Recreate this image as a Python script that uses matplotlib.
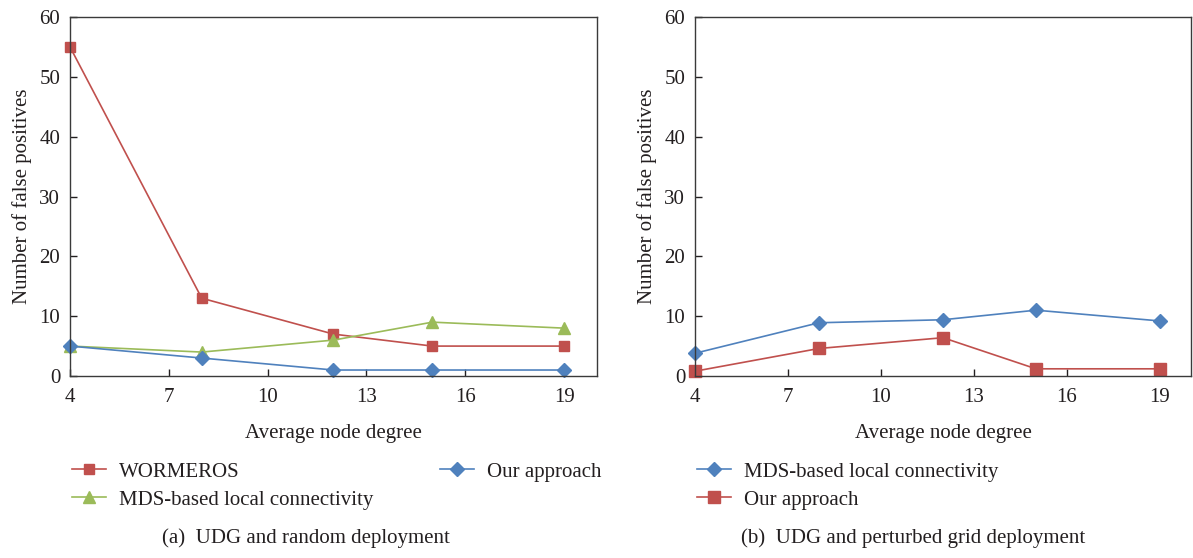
import matplotlib
matplotlib.use("Agg")
import matplotlib.pyplot as plt

# Data
degrees = [4, 8, 12, 15, 19]

# (a) UDG and random deployment
a_wormeros = [55, 13, 7, 5, 5]
a_our = [5, 3, 1, 1, 1]
a_mds = [5, 4, 6, 9, 8]

# (b) UDG and perturbed grid deployment
b_mds = [3.8, 8.9, 9.4, 11.0, 9.2]
b_our = [0.8, 4.6, 6.4, 1.2, 1.2]

x_ticks = [4, 7, 10, 13, 16, 19]
y_ticks = [0, 10, 20, 30, 40, 50, 60]

RED = "#C0504D"
BLUE = "#4F81BD"
GREEN = "#9BBB59"
TEXT = "#231F20"
FS = 15

plt.rcParams['font.family'] = ['Liberation Serif', 'DejaVu Serif']
plt.rcParams['font.size'] = FS
plt.rcParams['text.color'] = TEXT
plt.rcParams['axes.labelcolor'] = TEXT
plt.rcParams['xtick.color'] = TEXT
plt.rcParams['ytick.color'] = TEXT

fig = plt.figure(figsize=(11.93, 5.58), dpi=100)
W, H = 1193.0, 558.0


def style_axes(ax):
    ax.set_xlim(4, 20)
    ax.set_ylim(0, 60)
    ax.set_xticks(x_ticks)
    ax.set_yticks(y_ticks)
    ax.tick_params(direction='in', length=5, width=1, labelsize=FS, pad=7)
    ax.tick_params(axis='x', pad=9)
    for s in ax.spines.values():
        s.set_color("#3A3A3A")
        s.set_linewidth(1.0)
    ax.set_xlabel("Average node degree", fontsize=FS, labelpad=12)
    ax.set_ylabel("Number of false positives", fontsize=FS, labelpad=5)


ax1 = fig.add_axes([70 / W, 1 - 376 / H, (597 - 70) / W, (376 - 17) / H])
ax2 = fig.add_axes([695 / W, 1 - 376 / H, (1191 - 695) / W, (376 - 17) / H])

l1, = ax1.plot(degrees, a_wormeros, color=RED, marker='s', markersize=7.5, lw=1.2, label="WORMEROS")
l3, = ax1.plot(degrees, a_mds, color=GREEN, marker='^', markersize=9, lw=1.2,
               label="MDS-based local connectivity")
l2, = ax1.plot(degrees, a_our, color=BLUE, marker='D', markersize=7, lw=1.2, label="Our approach")
style_axes(ax1)

m1, = ax2.plot(degrees, b_mds, color=BLUE, marker='D', markersize=7, lw=1.2,
               label="MDS-based local connectivity")
m2, = ax2.plot(degrees, b_our, color=RED, marker='s', markersize=8, lw=1.2, label="Our approach")
style_axes(ax2)
for a in (ax1, ax2):
    for ln in a.get_lines():
        ln.set_clip_on(False)

leg_kw = dict(loc='upper left', frameon=False, borderpad=0, borderaxespad=0,
              handlelength=1.65, handletextpad=0.6, labelspacing=0.4, fontsize=FS)
fig.legend(handles=[l1, l3], bbox_to_anchor=(72 / W, 1 - 462 / H), **leg_kw)
fig.legend(handles=[l2], bbox_to_anchor=(440 / W, 1 - 462 / H), **leg_kw)
fig.legend(handles=[m1, m2], bbox_to_anchor=(697 / W, 1 - 462 / H), **leg_kw)

fig.text(306 / W, 1 - 538 / H, "(a)  UDG and random deployment", ha='center', va='center', fontsize=FS)
fig.text(913 / W, 1 - 538 / H, "(b)  UDG and perturbed grid deployment", ha='center', va='center', fontsize=FS)

fig.savefig("out.png", dpi=100)
